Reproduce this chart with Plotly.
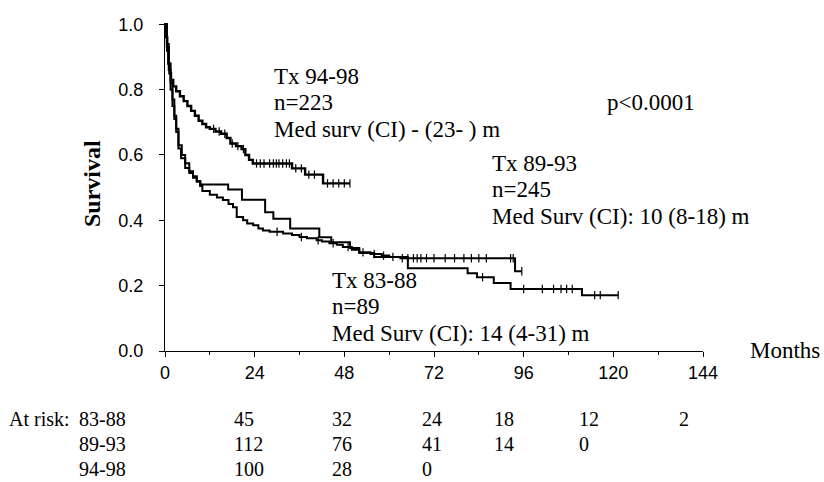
import plotly.graph_objects as go

# ---------------- data ----------------
# Kaplan-Meier step curves: time (months) at which each step starts, survival after step
t_9498 = [0, 0.3, 0.6, 0.9, 1.2, 1.6, 2.2, 3, 4, 5, 6, 7, 8, 9, 10, 11, 12, 13.5, 15, 16.5,
          17.5, 19, 20.5, 21.5, 22.5, 23.5, 34, 37.5, 42.3, 49.5]
s_9498 = [1.0, 0.96, 0.92, 0.88, 0.85, 0.83, 0.81, 0.795, 0.78, 0.765, 0.75, 0.735, 0.72, 0.705,
          0.695, 0.685, 0.68, 0.672, 0.665, 0.652, 0.635, 0.627, 0.618, 0.60, 0.585, 0.574,
          0.559, 0.54, 0.513, 0.513]
cens_9498 = [13, 14.5, 16, 18, 19.5, 21, 24.5, 25.5, 26.5, 28, 29, 29.8, 30.5, 31.5, 32.5, 33.3,
             35, 36.5, 38.5, 40, 43.5, 45, 46.5, 48, 49.5]

t_8993 = [0, 0.5, 1, 1.5, 2, 2.5, 3, 3.6, 4.5, 5.4, 6.5, 7.5, 8.5, 9.4, 10, 12, 13.9, 15.5, 17,
          18.2, 19.2, 20.9, 22, 23.6, 25, 26.2, 28, 31.6, 34, 36, 38, 40.6, 42, 44, 46, 47.6,
          50, 52, 55, 58, 60, 63, 93.7, 95.5]
s_8993 = [1.0, 0.94, 0.88, 0.82, 0.77, 0.72, 0.68, 0.63, 0.60, 0.575, 0.55, 0.535, 0.52, 0.505,
          0.49, 0.478, 0.47, 0.462, 0.45, 0.44, 0.41, 0.40, 0.39, 0.385, 0.375, 0.369, 0.365,
          0.36, 0.355, 0.349, 0.345, 0.339, 0.335, 0.33, 0.325, 0.318, 0.31, 0.302, 0.297,
          0.292, 0.288, 0.284, 0.244, 0.244]
cens_8993 = [30, 36.5, 41, 45, 49, 53, 56, 58.5, 61, 63.5, 65, 66.5, 67.5, 68.5, 70, 72, 75,
             77.5, 80, 82, 84, 86, 92.5, 93.2, 95.5]

t_8388 = [0, 0.5, 1, 1.5, 2, 2.5, 3, 3.6, 4.3, 5.4, 6.5, 7.5, 8.5, 9.5, 16.9, 20.6, 26.8, 29,
          33.5, 41.3, 44.5, 49.5, 52, 56, 65, 81, 83.5, 88, 92.5, 111.6, 121.3]
s_8388 = [1.0, 0.93, 0.86, 0.80, 0.75, 0.71, 0.67, 0.62, 0.59, 0.56, 0.545, 0.53, 0.518, 0.51,
          0.494, 0.463, 0.425, 0.405, 0.375, 0.348, 0.333, 0.315, 0.30, 0.288, 0.253, 0.238,
          0.226, 0.208, 0.19, 0.171, 0.171]
cens_8388 = [85, 96, 101, 104, 106, 107.5, 109, 115, 116.5, 121.3]

x_ticks = [0, 24, 48, 72, 96, 120, 144]
y_ticks = [0.0, 0.2, 0.4, 0.6, 0.8, 1.0]

risk_groups = ["83-88", "89-93", "94-98"]
risk_83_88 = ["45", "32", "24", "18", "12", "2"]
risk_89_93 = ["112", "76", "41", "14", "0"]
risk_94_98 = ["100", "28", "0"]

labels = {
    "94-98": ["Tx 94-98", "n=223", "Med surv (CI) - (23- ) m"],
    "89-93": ["Tx 89-93", "n=245", "Med Surv (CI): 10 (8-18) m"],
    "83-88": ["Tx 83-88", "n=89", "Med Surv (CI): 14 (4-31) m"],
}
p_text = "p<0.0001"

# ---------------- layout constants ----------------
W, H = 824, 482
L, R, T, B = 165, 703, 23, 351
SERIF = "Liberation Serif, Times New Roman, serif"
SANS = "Liberation Sans Narrow, Arial Narrow, Liberation Sans, Arial, sans-serif"


def px(xp, yp):
    return (xp - L) / (R - L), (B - yp) / (B - T)


def step_value(ts, ss, t):
    v = ss[0]
    for a, b in zip(ts, ss):
        if a <= t:
            v = b
        else:
            break
    return v


fig = go.Figure()
for ts, ss, cs, w in [(t_8388, s_8388, cens_8388, 2.0),
                      (t_8993, s_8993, cens_8993, 2.0),
                      (t_9498, s_9498, cens_9498, 2.4)]:
    fig.add_trace(go.Scatter(x=ts, y=ss, mode="lines", line=dict(shape="hv", color="black", width=w),
                             hoverinfo="skip", showlegend=False))
    fig.add_trace(go.Scatter(x=cs, y=[step_value(ts, ss, c) for c in cs], mode="markers",
                             marker=dict(symbol="line-ns", size=6, line=dict(color="black", width=1.2)),
                             hoverinfo="skip", showlegend=False, cliponaxis=False))

ann = []


def text(xp, yp, s, size=23, anchor="left", bold=False, angle=0, font=SERIF):
    x, y = px(xp, yp)
    ann.append(dict(x=x, y=y, xref="paper", yref="paper", text=("<b>%s</b>" % s) if bold else s,
                    showarrow=False, xanchor=anchor, yanchor="middle", textangle=angle,
                    font=dict(family=font, size=size, color="black")))


for key, (x0, y0) in {"94-98": (272, 76), "89-93": (490, 163), "83-88": (330, 280)}.items():
    for i, line in enumerate(labels[key]):
        text(x0, y0 + i * 26.5, line)
text(605, 102, p_text)
text(822, 350, "Months", size=23, anchor="right")
text(92, 184, "Survival", size=24, anchor="center", bold=True, angle=-90)

row_y = [419, 444, 469]
col_x = [232, 330, 420, 492, 577, 677]
text(7, row_y[0], "At risk:", size=20)
for r, (g, vals) in enumerate(zip(risk_groups, [risk_83_88, risk_89_93, risk_94_98])):
    text(77, row_y[r], g, size=20)
    for c, v in enumerate(vals):
        text(col_x[c], row_y[r], v, size=20)

fig.update_layout(
    width=W, height=H, margin=dict(l=L, r=W - R, t=T, b=H - B, pad=0),
    paper_bgcolor="white", plot_bgcolor="white", annotations=ann,
    xaxis=dict(range=[0, 144], tickvals=x_ticks, ticktext=[str(v) for v in x_ticks],
               showline=True, linecolor="black", linewidth=1, ticks="outside", ticklen=5,
               tickcolor="black", tickwidth=1, showgrid=False, zeroline=False,
               minor=dict(dtick=12, ticks="outside", ticklen=3, tickcolor="black", tickwidth=1),
               tickfont=dict(family=SANS, size=18, color="black")),
    yaxis=dict(range=[0, 1.004], tickvals=y_ticks, ticktext=["%.1f" % v for v in y_ticks],
               showline=True, linecolor="black", linewidth=1, ticks="outside", ticklen=5,
               tickcolor="black", tickwidth=1, showgrid=False, zeroline=False,
               ticklabelstandoff=12,
               tickfont=dict(family=SANS, size=18, color="black")),
)
fig.write_html("out.html", config={"displayModeBar": False},
               post_script="document.body.style.margin='0';document.body.style.overflow='hidden';")
